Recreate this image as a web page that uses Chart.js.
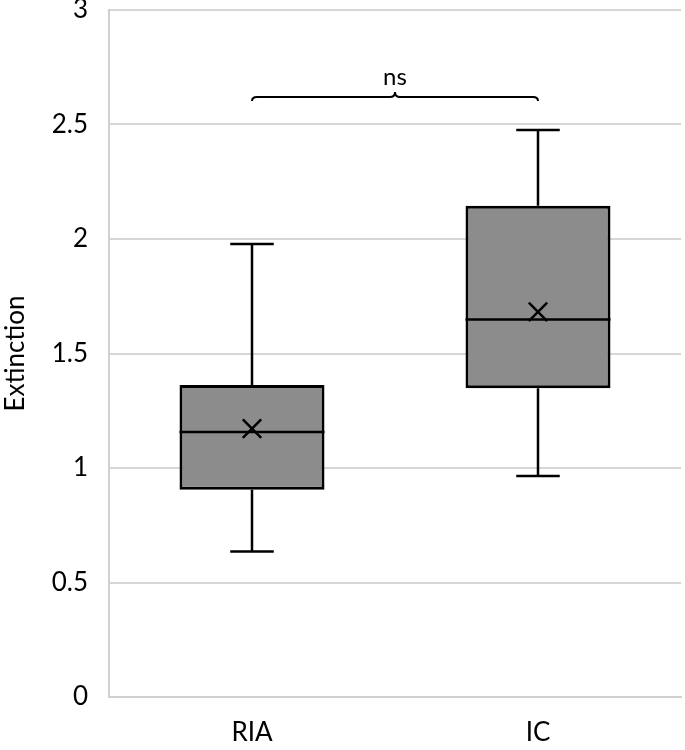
<!DOCTYPE html>
<html>
<head>
<meta charset="utf-8">
<script src="https://cdn.jsdelivr.net/npm/chart.js@4.4.1/dist/chart.umd.min.js"></script>
<style>
  html, body { margin: 0; padding: 0; background: #fff; }
  #wrap { width: 685px; height: 750px; }
</style>
</head>
<body>
<div id="wrap"><canvas id="chart"></canvas></div>
<script>
// box plot values
const categories = ['RIA', 'IC'];
const whiskerMin = [0.635, 0.965];
const q1 = [0.905, 1.348];
const median = [1.157, 1.649];
const q3 = [1.362, 2.145];
const whiskerMax = [1.978, 2.476];
const means = [1.172, 1.682];

const yTicks = [0, 0.5, 1, 1.5, 2, 2.5, 3];
const bracketLevel = 2.62;
const bracketText = 'ns';

const FONT = 'Lato, "Open Sans", sans-serif';

// draws whiskers, caps and median line on top of the boxes
const boxExtras = {
    id: 'boxExtras',
    afterDatasetDraw(chart, args) {
        if (args.index !== 0) return;
        const ctx = chart.ctx;
        const y = chart.scales.y;
        const meta = chart.getDatasetMeta(0);
        ctx.save();
        ctx.strokeStyle = '#000';
        ctx.lineWidth = 2.5;
        meta.data.forEach((bar, i) => {
            const cx = bar.x;
            const half = bar.width / 2;
            const cap = bar.width * 0.15;
            const yMin = y.getPixelForValue(whiskerMin[i]);
            const yMax = y.getPixelForValue(whiskerMax[i]);
            const yQ1 = y.getPixelForValue(q1[i]);
            const yQ3 = y.getPixelForValue(q3[i]);
            const yMed = y.getPixelForValue(median[i]);
            ctx.beginPath();
            // upper whisker
            ctx.moveTo(cx, yQ3);
            ctx.lineTo(cx, yMax);
            ctx.moveTo(cx - cap, yMax);
            ctx.lineTo(cx + cap, yMax);
            // lower whisker
            ctx.moveTo(cx, yQ1);
            ctx.lineTo(cx, yMin);
            ctx.moveTo(cx - cap, yMin);
            ctx.lineTo(cx + cap, yMin);
            // median
            ctx.moveTo(cx - half, yMed);
            ctx.lineTo(cx + half, yMed);
            ctx.stroke();
        });
        ctx.restore();
    }
};

// curly bracket with the significance label
const bracket = {
    id: 'bracket',
    afterDraw(chart) {
        const ctx = chart.ctx;
        const x = chart.scales.x;
        const x1 = x.getPixelForValue(0);
        const x2 = x.getPixelForValue(1);
        const xm = (x1 + x2) / 2;
        const yl = chart.scales.y.getPixelForValue(bracketLevel);
        ctx.save();
        ctx.strokeStyle = '#000';
        ctx.lineWidth = 2;
        ctx.beginPath();
        ctx.moveTo(x1, yl + 4);
        ctx.quadraticCurveTo(x1, yl, x1 + 5, yl);
        ctx.lineTo(xm - 5, yl);
        ctx.quadraticCurveTo(xm, yl, xm, yl - 5);
        ctx.quadraticCurveTo(xm, yl, xm + 5, yl);
        ctx.lineTo(x2 - 5, yl);
        ctx.quadraticCurveTo(x2, yl, x2, yl + 4);
        ctx.stroke();
        ctx.fillStyle = '#000';
        ctx.font = '24px ' + FONT;
        ctx.textAlign = 'center';
        ctx.textBaseline = 'alphabetic';
        ctx.fillText(bracketText, xm, yl - 12);
        ctx.restore();
    }
};

new Chart(document.getElementById('chart'), {
    type: 'bar',
    data: {
        labels: categories,
        datasets: [{
            label: 'IQR',
            data: categories.map((c, i) => [q1[i], q3[i]]),
            backgroundColor: '#8c8c8c',
            borderColor: '#000',
            borderWidth: 3,
            borderSkipped: false,
            categoryPercentage: 1,
            barPercentage: 0.507,
            order: 2
        }, {
            type: 'line',
            label: 'Mean',
            data: means,
            showLine: false,
            pointStyle: 'crossRot',
            pointRadius: 13,
            pointBorderWidth: 2.5,
            borderColor: '#000',
            backgroundColor: '#000',
            order: 1
        }]
    },
    options: {
        responsive: true,
        maintainAspectRatio: false,
        animation: false,
        layout: { autoPadding: false, padding: { top: 10, right: 4, left: 0, bottom: 0 } },
        plugins: {
            legend: { display: false },
            tooltip: { enabled: false }
        },
        scales: {
            x: {
                grid: { display: false },
                border: { display: true, color: '#d0d0d0', width: 2 },
                ticks: { color: '#000', font: { family: FONT, size: 26 }, padding: 12 },
                afterFit(scale) { scale.height = 53; }
            },
            y: {
                min: 0,
                max: 3,
                afterBuildTicks(scale) { scale.ticks = yTicks.map(v => ({ value: v })); },
                grid: { color: '#d6d6d6', lineWidth: 2, drawTicks: false },
                border: { display: true, color: '#d0d0d0', width: 2 },
                ticks: {
                    color: '#000',
                    font: { family: FONT, size: 26 },
                    padding: 21,
                    callback: (v) => String(v)
                },
                title: {
                    display: true,
                    text: 'Extinction',
                    color: '#000',
                    font: { family: FONT, size: 26 },
                    padding: { top: 0, bottom: 0 }
                },
                afterFit(scale) {
                    scale.width = 109;
                    scale.paddingTop = 0;
                    scale.paddingBottom = 0;
                }
            }
        }
    },
    plugins: [boxExtras, bracket]
});
</script>
</body>
</html>
